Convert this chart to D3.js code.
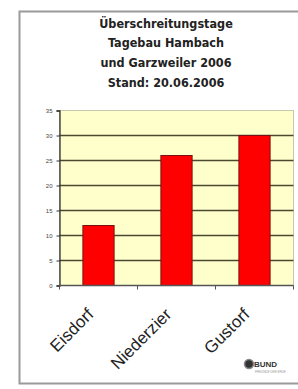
<!DOCTYPE html>
<html><head><meta charset="utf-8">
<script src="https://cdn.jsdelivr.net/npm/d3@7"></script>
<style>body{margin:0;background:#fff;}svg{display:block;}</style>
</head><body>
<script>
const titleLines = ["Überschreitungstage", "Tagebau Hambach", "und Garzweiler 2006", "Stand: 20.06.2006"];
const categories = ["Eisdorf", "Niederzier", "Gustorf"];
const values = [12, 26, 30];
const yTicks = [0, 5, 10, 15, 20, 25, 30, 35];

const W = 298, H = 389;
const svg = d3.select("body").append("svg").attr("width", W).attr("height", H);
svg.append("rect").attr("width", W).attr("height", H).attr("fill", "#ffffff");
// outer frame
svg.append("rect").attr("x", 19.5).attr("y", 11.5).attr("width", 290).attr("height", 372)
  .attr("fill", "#ffffff").attr("stroke", "#9a9a9a").attr("stroke-width", 2);

// title
svg.append("g").selectAll("text").data(titleLines).join("text")
  .attr("x", 166).attr("y", (d, i) => 27.5 + i * 19.7)
  .attr("text-anchor", "middle")
  .attr("font-family", "DejaVu Sans Condensed, Liberation Sans Narrow, Arial, sans-serif")
  .attr("font-weight", "bold").attr("font-size", 12.5)
  .attr("fill", "#222")
  .text(d => d);

const x0 = 59.5, x1 = 293.5, yTop = 110.5, yBot = 285.5;
const x = d3.scaleBand().domain(categories).range([x0, x1]).paddingInner(0.6).paddingOuter(0.3);
const y = d3.scaleLinear().domain([0, 35]).range([yBot, yTop]);

// plot background
svg.append("rect").attr("x", x0).attr("y", yTop).attr("width", x1 - x0).attr("height", yBot - yTop)
  .attr("fill", "#ffffcc").attr("stroke", "#c8c8b0").attr("stroke-width", 1);

// gridlines
svg.append("g").selectAll("line").data(yTicks.filter(t => t > 0 && t < 35)).join("line")
  .attr("x1", x0).attr("x2", x1).attr("y1", d => y(d)).attr("y2", d => y(d))
  .attr("stroke", "#4a4a30").attr("stroke-width", 1.3);

// bars
svg.append("g").selectAll("rect").data(values).join("rect")
  .attr("x", (d, i) => x(categories[i]))
  .attr("width", x.bandwidth())
  .attr("y", d => y(d))
  .attr("height", d => yBot - y(d))
  .attr("fill", "#ff0000").attr("stroke", "#7a1010").attr("stroke-width", 1);

// y axis
const yAxis = svg.append("g").attr("transform", `translate(${x0},0)`)
  .call(d3.axisLeft(y).tickValues(yTicks).tickSize(3).tickPadding(4));
yAxis.select(".domain").attr("stroke", "#333").attr("stroke-width", 1.3);
yAxis.selectAll("line").attr("stroke", "#333");
yAxis.selectAll("text").attr("font-family", "Liberation Sans, Arial, sans-serif").attr("font-size", 6).attr("fill", "#444");

// x axis
const xAxisG = svg.append("g").attr("transform", `translate(0,${yBot})`);
xAxisG.append("line").attr("x1", x0).attr("x2", x1).attr("stroke", "#555").attr("stroke-width", 1.3);
const bounds = d3.range(categories.length + 1).map(i => x0 + i * (x1 - x0) / categories.length);
xAxisG.selectAll("line.tk").data(bounds).join("line").attr("class", "tk")
  .attr("x1", d => d).attr("x2", d => d).attr("y1", 0).attr("y2", 4).attr("stroke", "#555");

// category labels
svg.append("g").selectAll("text").data(categories).join("text")
  .attr("transform", d => `translate(${x(d) + x.bandwidth() / 2 - 4},${yBot + 30}) rotate(-45)`)
  .attr("text-anchor", "end")
  .attr("font-family", "Liberation Sans, Arial, sans-serif").attr("font-size", 17)
  .attr("fill", "#222")
  .text(d => d);

// logo
const logo = svg.append("g").attr("transform", "translate(249,364)");
logo.append("circle").attr("r", 4.5).attr("fill", "#333").attr("stroke", "#888").attr("stroke-width", 1.5);
logo.append("text").attr("x", 5).attr("y", 3).attr("font-family", "Liberation Sans, Arial, sans-serif")
  .attr("font-weight", "bold").attr("font-size", 8).attr("fill", "#333").text("BUND");
logo.append("text").attr("x", 6).attr("y", 9).attr("font-family", "Liberation Sans, Arial, sans-serif")
  .attr("font-size", 3).attr("fill", "#999").text("FREUNDE DER ERDE");
</script>
</body></html>
